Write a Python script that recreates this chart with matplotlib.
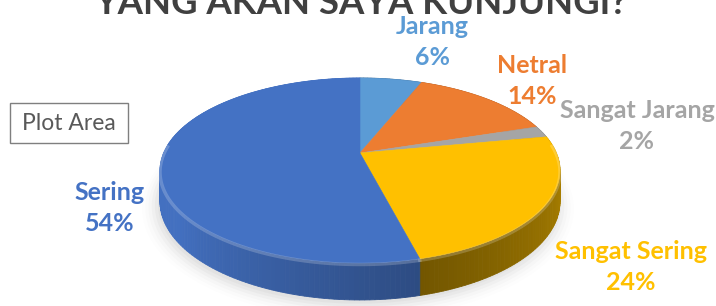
import numpy as np
import matplotlib
matplotlib.use("Agg")
import matplotlib.pyplot as plt
from matplotlib.patches import Polygon, Rectangle
from matplotlib.colors import to_rgb

# data
kategori = ["Jarang", "Netral", "Sangat Jarang", "Sangat Sering", "Sering"]
persen = [6, 14, 2, 24, 54]
warna = ["#5B9BD5", "#ED7D31", "#A5A5A5", "#FFC000", "#4472C4"]
judul = "YANG AKAN SAYA KUNJUNGI?"

# posisi label (layout)
posisi_label = [(432, 42), (532, 81), (637, 126), (631, 267), (110, 208)]

# geometri pie 3D (perspektif sederhana)
cx, cy = 360, 153
A, B, k = 196.4, 89.2, 0.189
tebal = 30


def proj(u, v, turun=0.0):
    w = 1 - k * v
    return cx + A * u / w, cy + (B * v + turun) / w


def gelap(c, f):
    r, g, b = to_rgb(c)
    return (min(1, r * f), min(1, g * f), min(1, b * f))


def bayang(am):
    d = np.degrees(am) - 165
    if d < 0:
        return 0.45 + 0.25 * min(1.0, -d / 75)
    return 0.66 + 0.32 * min(1.0, d / 70)


fig = plt.figure(figsize=(7.16, 3.06), dpi=100)
ax = fig.add_axes([0, 0, 1, 1])
ax.set_xlim(0, 716)
ax.set_ylim(306, 0)
ax.axis("off")

total = sum(persen)
batas = np.concatenate([[0], np.cumsum(persen)]) / total * 2 * np.pi

# bayangan tipis di bawah
t = np.linspace(0, 2 * np.pi, 200)
for i, a in enumerate(np.linspace(0.06, 0.015, 6)):
    sx, sy = proj(np.sin(t) * (1.0 + 0.015 * i), -np.cos(t) * (1.0 + 0.02 * i), tebal + 3)
    ax.add_patch(Polygon(np.column_stack([sx - 2, sy]), closed=True,
                         facecolor="#808080", edgecolor="none", alpha=a, zorder=0))

# sisi samping
quads = []
for s in range(len(persen)):
    phi = np.linspace(batas[s], batas[s + 1], max(3, int(persen[s] * 3)))
    for a0, a1 in zip(phi[:-1], phi[1:]):
        am = (a0 + a1) / 2
        u0, v0 = np.sin(a0), -np.cos(a0)
        u1, v1 = np.sin(a1), -np.cos(a1)
        p = [proj(u0, v0), proj(u1, v1), proj(u1, v1, tebal), proj(u0, v0, tebal)]
        quads.append((-np.cos(am), p, gelap(warna[s], bayang(am))))

for _, p, c in sorted(quads, key=lambda q: q[0]):
    ax.add_patch(Polygon(p, closed=True, facecolor=c, edgecolor=c, lw=0.6, zorder=1))

# permukaan atas
for s in range(len(persen)):
    phi = np.linspace(batas[s], batas[s + 1], max(4, int(persen[s] * 4)))
    xs, ys = proj(np.sin(phi), -np.cos(phi))
    pts = np.vstack([[cx, cy], np.column_stack([xs, ys])])
    ax.add_patch(Polygon(pts, closed=True, facecolor=warna[s], edgecolor=warna[s],
                         lw=0.4, zorder=2))
    # tepi bevel terang di depan
    depan = np.cos(phi) < 0.1
    if depan.any():
        ax.plot(xs[depan], ys[depan] + 1.5, color="white", alpha=0.2, lw=2.5, zorder=3)

# label data
for nama, p, c, (lx, ly) in zip(kategori, persen, warna, posisi_label):
    ax.text(lx, ly, f"{nama}\n{p}%", ha="center", va="center", color=c,
            fontsize=18, fontweight="bold", family="Lato", linespacing=1.4, zorder=5)

# judul (terpotong di atas seperti aslinya)
ax.text(361, 14.5, judul, ha="center", va="baseline", color="#404040",
        fontsize=26.3, fontweight="bold", family="Lato", zorder=5)

# kotak "Plot Area"
ax.add_patch(Rectangle((10, 103), 118, 40, facecolor="white", edgecolor="#7F7F7F",
                       lw=1, zorder=6))
ax.text(69, 123, "Plot Area", ha="center", va="center", color="#595959",
        fontsize=16.5, family="Lato", zorder=7)

fig.savefig("out.png", dpi=100)
